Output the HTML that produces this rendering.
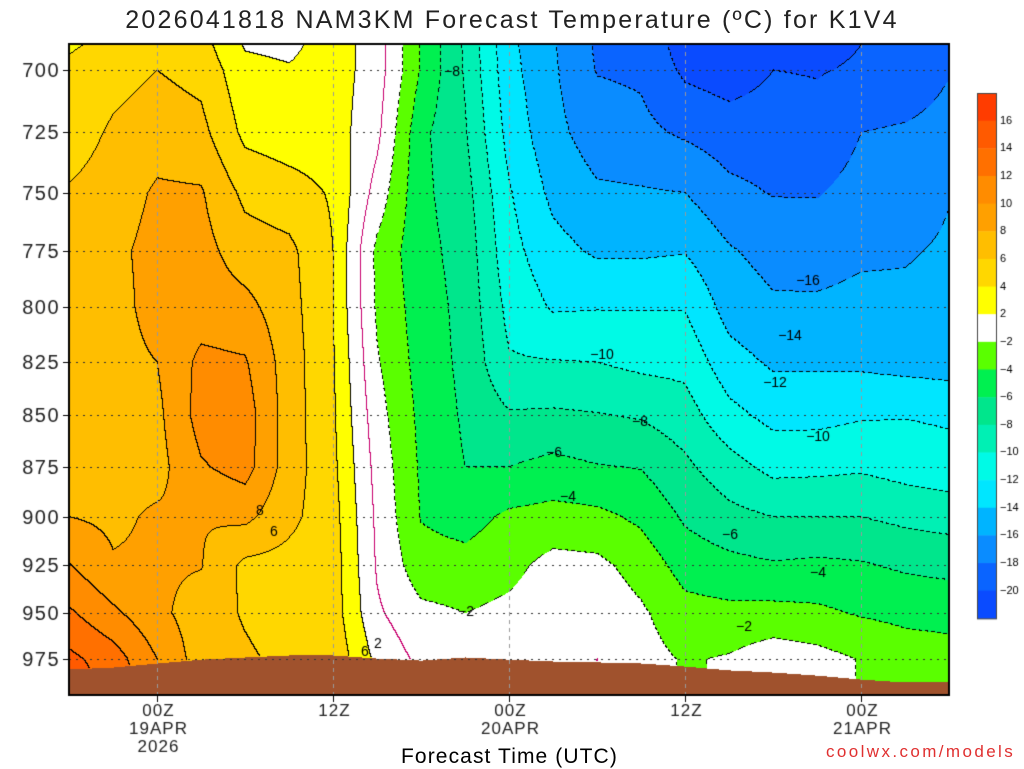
<!DOCTYPE html>
<html><head><meta charset="utf-8">
<style>
body{margin:0;background:#fff;width:1024px;height:768px;overflow:hidden;font-family:"Liberation Sans",sans-serif;}
#wrap{position:relative;width:1024px;height:768px;}
.t{position:absolute;white-space:nowrap;color:#000;}
</style></head>
<body>
<div id="wrap">
<div class="t" style="left:0;width:1024px;text-align:center;top:6px;font-size:25px;letter-spacing:2.2px;color:#222;">2026041818 NAM3KM Forecast Temperature (ºC) for K1V4</div>
<canvas id="cv" width="1024" height="768" style="position:absolute;left:0;top:0"></canvas>
<div class="t" style="left:401px;top:745px;font-size:21px;letter-spacing:1.1px;">Forecast Time (UTC)</div>
<div class="t" style="left:826px;top:742px;font-size:17px;letter-spacing:2.4px;color:#e03030;">coolwx.com/models</div>
</div>
<script>
// ---- data ----
const hours=[0,3,6,9,12,15,18,21,24,27,30,33,36,39,42,45,48,51,54,57,60];
const pressures=[690,700,725,750,775,800,825,850,875,900,925,950,975,1000];
const t0 =[3.8,4.3,5.0,6.2,6.8,7,7.2,7.3,7.5,8,10.1,12.3,14.5,15.5];
const t3 =[4.4,5.3,6.3,6.9,7.5,7.2,7.3,7.4,7.5,7.6,8.2,10.4,13,14];
const t6 =[5.5,6.0,7.1,8.3,8.7,8.8,8.0,7.5,7.3,8.3,8.3,8.5,10,10.5];
const t9 =[4.8,5.4,6.6,8.2,8.7,9,10.5,10.8,9.8,8.1,8.1,7,7,7];
const t12=[1.8,2.6,3.5,5.5,7,8.6,10.2,11,10.8,8.5,5.5,5.8,6.3,6.3];
const t15=[1.5,2.2,3,4.8,6.5,6.8,7,7,7,6.5,5.3,5,5.5,5.5];
const t18=[3,3,3,3.8,4,4,4.2,4.3,4.5,4.8,5,5,5.5,5.5];
const t21=[1,1,0.5,-0.8,-2.5,-2.3,-1.8,-1.2,-0.7,-0.4,-0.2,0.3,1.5,1.5];
const t24=[-4.2,-4.2,-5.5,-5.5,-5.3,-5,-4.8,-4.5,-4.3,-4.1,-3.2,-1.5,-0.5,-0.5];
const t27=[-8.3,-8.2,-7.8,-7.2,-6.8,-6.6,-6.5,-6.3,-6,-4.8,-3.3,-2,-1,-1];
const t30=[-13.5,-13.3,-12.7,-11.8,-11.3,-10.6,-9.8,-7.8,-6,-3.6,-2.6,-1.5,-1,-1];
const t33=[-15.8,-15.7,-15.4,-14.5,-13.3,-12.2,-9.9,-7.7,-5.4,-3.3,-1.3,-0.6,-0.5,-0.5];
const t36=[-18.3,-18.1,-17.0,-15.7,-14.3,-12.1,-10.0,-7.9,-5.9,-3.5,-1.5,-0.6,0,0];
const t39=[-18.5,-18.3,-17.5,-15.8,-14.3,-12.1,-10.5,-8.2,-6.1,-4.4,-2.8,-1.7,-1.2,-1.2];
const t42=[-21,-20.4,-18.3,-16.0,-14.1,-12.1,-10.6,-9.1,-7.6,-6.3,-4.8,-3.3,-2.2,-2.2];
const t45=[-21.5,-21,-19,-17.5,-15.8,-14.8,-13.2,-11.4,-9.2,-7.4,-5.4,-3.5,-1.8,-1.8];
const t48=[-20.5,-20,-19,-18.1,-16.7,-15.7,-14.3,-12.6,-10.6,-8,-5.8,-3.4,-0.8,-0.8];
const t51=[-20.5,-20.1,-19.4,-18.1,-17,-15.6,-14.3,-12.6,-10.5,-8,-5.6,-3.6,-1.3,-1.3];
const t54=[-20,-19.8,-18,-17.3,-16.4,-15.3,-14.4,-12.2,-10.3,-8,-5.8,-4.2,-2.1,-2.1];
const t57=[-19.7,-19.5,-17.7,-17.2,-16.2,-15.5,-14.7,-12.1,-10.8,-8.5,-6.3,-4.5,-3,-3];
const t60=[-18.3,-18.1,-17.2,-16.1,-15.7,-15.3,-14.9,-12.3,-11.2,-8.8,-6.6,-4.6,-3.3,-3.3];
const temps=[t0,t3,t6,t9,t12,t15,t18,t21,t24,t27,t30,t33,t36,t39,t42,t45,t48,t51,t54,t57,t60];
const surfP=[980.6,979.5,977.3,975.2,974,972.9,972.9,974.6,975.7,974,975.2,976.2,976.7,977.3,979,981.1,982.3,984,986.2,987.8,987.8];
const yTicks=[700,725,750,775,800,825,850,875,900,925,950,975];
const xTickHours=[6,18,30,42,54];
const xTickLabels=[["00Z","19APR","2026"],["12Z"],["00Z","20APR"],["12Z"],["00Z","21APR"]];
const barLevels=[16,14,12,10,8,6,4,2,-2,-4,-6,-8,-10,-12,-14,-16,-18,-20];
// ---- geometry ----
const PX0=69,PX1=949,PY0=44,PY1=695;
const xOf=h=>PX0+h*(880/60);
const yOf=p=>70+1777*Math.log(p/700);
const hOf=x=>(x-PX0)*60/880;
const pOf=y=>700*Math.exp((y-70)/1777);
const edges=[-20,-18,-16,-14,-12,-10,-8,-6,-4,-2,2,4,6,8,10,12,14,16];
const cols=["#0a4bff","#0a64ff","#0a8cff","#00b4ff","#00e6ff","#00fae6","#00f0b4","#00e68c","#00f050","#5aff00","#ffffff","#ffff00","#ffd700","#ffbe00","#ffa000","#ff8c00","#ff7000","#ff5a00","#ff3c00"];
function bin(v){let i=0;while(i<edges.length&&v>=edges[i])i++;return i;}
function interp(xs,v){let i=0;while(i<xs.length-2&&v>xs[i+1])i++;let f=(v-xs[i])/(xs[i+1]-xs[i]);f=Math.max(0,Math.min(1,f));return [i,f];}
function tempAt(h,p){
  const [i,fi]=interp(hours,h),[j,fj]=interp(pressures,p);
  const a=temps[i][j],b=temps[i+1][j],c=temps[i][j+1],d=temps[i+1][j+1];
  return (a*(1-fi)+b*fi)*(1-fj)+(c*(1-fi)+d*fi)*fj;}
function surfAt(h){const [i,f]=interp(hours,h);return surfP[i]*(1-f)+surfP[i+1]*f;}
const cv=document.getElementById('cv'),ctx=cv.getContext('2d');
const W=PX1-PX0,H=PY1-PY0;
const img=ctx.createImageData(W,H);
const B=new Int16Array(W*H),T=new Float32Array(W*H);
function rgb(h){return [parseInt(h.substr(1,2),16),parseInt(h.substr(3,2),16),parseInt(h.substr(5,2),16)];}
const crgb=cols.map(rgb);
for(let y=0;y<H;y++)for(let x=0;x<W;x++){
  const h=hOf(x+PX0),p=pOf(y+PY0);const k=y*W+x;
  if(p>surfAt(h)){B[k]=-1;continue;}
  const t=tempAt(h,p);T[k]=t;B[k]=bin(t);}
for(let y=0;y<H;y++)for(let x=0;x<W;x++){
  const k=y*W+x;let c;
  if(B[k]<0)c=[160,82,45];
  else{c=crgb[B[k]];
    const r=x+1<W?B[k+1]:B[k],d=y+1<H?B[k+W]:B[k];
    if(r>=0&&d>=0&&(r!==B[k]||d!==B[k])){const neg=T[k]<0;if(!neg||((x+y)%7<4))c=[0,0,0];}
    const r0=x+1<W?T[k+1]:T[k],d0=y+1<H?T[k+W]:T[k];
    if(r>=0&&d>=0&&((T[k]<0)!==(r0<0)||(T[k]<0)!==(d0<0)))c=[200,0,110];}
  img.data.set([c[0],c[1],c[2],255],k*4);}
ctx.putImageData(img,PX0,PY0);
// grid
ctx.lineWidth=1;
ctx.strokeStyle="#333";ctx.setLineDash([2,5]);
yTicks.forEach(p=>{const y=Math.round(yOf(p))+0.5;ctx.beginPath();ctx.moveTo(PX0,y);ctx.lineTo(PX1,y);ctx.stroke();});
ctx.strokeStyle="#999";ctx.setLineDash([4,4]);
xTickHours.forEach(h=>{const x=Math.round(xOf(h))+0.5;ctx.beginPath();ctx.moveTo(x,PY0);ctx.lineTo(x,PY1);ctx.stroke();});
ctx.setLineDash([]);
ctx.strokeStyle="#000";ctx.lineWidth=2;ctx.strokeRect(PX0,PY0,W,H);
ctx.lineWidth=1;
// ticks + labels
ctx.fillStyle="#222";ctx.font='20px "Liberation Sans",sans-serif';ctx.textAlign="right";ctx.textBaseline="middle";
if('letterSpacing' in ctx)ctx.letterSpacing="1.5px";
yTicks.forEach(p=>{const y=Math.round(yOf(p))+0.5;ctx.beginPath();ctx.moveTo(PX0-6,y);ctx.lineTo(PX0,y);ctx.stroke();ctx.fillText(String(p),PX0-9,y+1);});
ctx.textAlign="center";ctx.textBaseline="top";ctx.font='17px "Liberation Sans",sans-serif';
if('letterSpacing' in ctx)ctx.letterSpacing="1px";
xTickHours.forEach((h,i)=>{const x=Math.round(xOf(h))+0.5;ctx.beginPath();ctx.moveTo(x,PY1);ctx.lineTo(x,PY1+7);ctx.stroke();
  xTickLabels[i].forEach((s,j)=>ctx.fillText(s,x+1,703+j*18));});
if('letterSpacing' in ctx)ctx.letterSpacing="0px";
// colorbar
const cbX=977,cbW=19,cbTop=93,cbStep=27.65;
for(let i=0;i<cols.length;i++){ctx.fillStyle=cols[cols.length-1-i];ctx.fillRect(cbX,cbTop+i*cbStep,cbW,cbStep+0.5);}
ctx.strokeStyle="#444";ctx.strokeRect(cbX+0.5,cbTop+0.5,cbW,cbStep*cols.length);
ctx.fillStyle="#000";ctx.font='11px "Liberation Sans",sans-serif';ctx.textAlign="left";ctx.textBaseline="middle";
barLevels.forEach((v,i)=>{const y=cbTop+(i+1)*cbStep;ctx.fillText(v<0?"\u2212"+(-v):String(v),1000,y);});
// contour labels
const labs=[["-8",452,72],["-16",808,281],["-14",790,336],["-10",602,355],["-12",775,383],["-8",640,422],["-10",818,437],["-6",554,453],["-4",568,497],["8",260,511],["6",274,532],["-6",730,535],["-4",818,573],["-2",466,612],["-2",744,627],["2",378,644],["6",365,652]];
ctx.font='14px "Liberation Sans",sans-serif';ctx.textAlign="center";
labs.forEach(l=>{ctx.fillStyle="#000";ctx.fillText(l[0].replace("-","\u2212"),l[1],l[2]);});
</script>
</body></html>
